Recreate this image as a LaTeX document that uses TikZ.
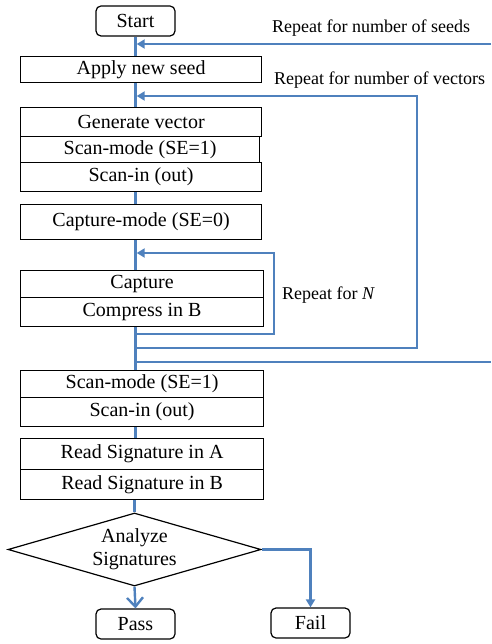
\documentclass[tikz,border=0pt]{standalone}
\usepackage{fontspec}
\setmainfont{Liberation Serif}
\usetikzlibrary{arrows.meta, positioning, shapes.geometric}
\definecolor{flowblue}{RGB}{79,129,189}

\begin{document}
\begin{tikzpicture}[x=1pt, y=-1pt]
    % Define styles
    \tikzset{
        stepbox/.style={draw, line width=1.2pt, minimum width=241pt, inner sep=0pt, anchor=north west, font=\fontsize{20}{22}\selectfont},
        termbox/.style={stepbox, rounded corners=5pt, minimum width=79pt, minimum height=30pt, anchor=center},
        decision/.style={draw, line width=1.2pt, diamond, aspect=3.47, minimum width=253pt, minimum height=73pt, inner sep=0pt, align=center, font=\fontsize{20}{23}\selectfont},
        flow/.style={draw=flowblue, line width=2.4pt},
        loopback/.style={flow, -{Triangle[length=8pt, width=9pt]}, shorten >=1.2pt},
        note/.style={font=\fontsize{18}{21}\selectfont, anchor=west, inner sep=0pt}
    }
    \useasboundingbox (0,0) rectangle (491,644);

    % Main column
    \node[termbox] (start) at (135.5,21) {Start};
    \node[stepbox, minimum height=26pt] (seed) at (20,56) {Apply new seed};
    \node[stepbox, minimum height=29pt] (gen) at (20,107) {Generate vector};
    \node[stepbox, minimum width=239pt, minimum height=26pt, below=-1.2pt of gen.south west, anchor=north west] (scanmode) {Scan-mode (SE=1)};
    \node[stepbox, minimum height=29pt, below=-1.2pt of scanmode.south west, anchor=north west] (scanin) {Scan-in (out)};
    \node[stepbox, minimum height=35pt] (capmode) at (20,204) {Capture-mode (SE=0)};
    \node[stepbox, minimum width=243pt, minimum height=27pt] (capture) at (20,270) {Capture};
    \node[stepbox, minimum width=243pt, minimum height=29pt, below=-1.2pt of capture.south west, anchor=north west] (compress) {Compress in B};
    \node[stepbox, minimum width=243pt, minimum height=27pt] (scanmodeb) at (20,370) {Scan-mode (SE=1)};
    \node[stepbox, minimum width=243pt, minimum height=29pt, below=-1.2pt of scanmodeb.south west, anchor=north west] (scaninb) {Scan-in (out)};
    \node[stepbox, minimum width=243pt, minimum height=31pt] (reada) at (20,438) {Read Signature in A};
    \node[stepbox, minimum width=243pt, minimum height=30pt, below=-1.2pt of reada.south west, anchor=north west] (readb) {Read Signature in B};
    \node[decision] (analyze) at (134.5,549.5) {Analyze\\Signatures};
    \node[termbox] (pass) at (135.5,624) {Pass};
    \node[termbox] (fail) at (310.5,623) {Fail};

    % Flow lines
    \draw[flow] (start.south) -- (seed.north -| start.south);
    \draw[flow] (seed.south -| start.south) -- (gen.north -| start.south);
    \draw[flow] (scanin.south -| start.south) -- (capmode.north -| start.south);
    \draw[flow] (capmode.south -| start.south) -- (capture.north -| start.south);
    \draw[flow] (compress.south -| start.south) -- (scanmodeb.north -| start.south);
    \draw[flow] (scaninb.south -| start.south) -- (reada.north -| start.south);
    \draw[flow] (readb.south -| analyze.north) -- (analyze.north);
    \draw[flow, -{Straight Barb[length=9pt, width=16pt]}] (analyze.south) -- (pass.north);
    \draw[flow, -{Triangle[length=8pt, width=9pt]}] (analyze.east) -| (fail.north);

    % Repeat loops
    \coordinate (nbot) at (135.5,334);
    \coordinate (ntop) at (135.5,253);
    \coordinate (nturn) at (274,334);
    \draw[loopback] (nbot) -- (nturn) |- (ntop);

    \coordinate (vbot) at (135.5,348);
    \coordinate (vtop) at (135.5,96);
    \coordinate (vturn) at (417,348);
    \draw[loopback] (vbot) -- (vturn) |- (vtop);

    \coordinate (sbot) at (135.5,362);
    \coordinate (sout) at (491,362);
    \coordinate (sin) at (491,44);
    \coordinate (stop) at (135.5,44);
    \draw[flow] (sbot) -- (sout);
    \draw[loopback] (sin) -- (stop);

    % Labels
    \node[note] (seedsnote) at (272,28) {Repeat for number of seeds};
    \node[note] (vectorsnote) at (274,80) {Repeat for number of vectors};
    \node[note] (nnote) at (282,295) {Repeat for \textit{N}};
\end{tikzpicture}
\end{document}
